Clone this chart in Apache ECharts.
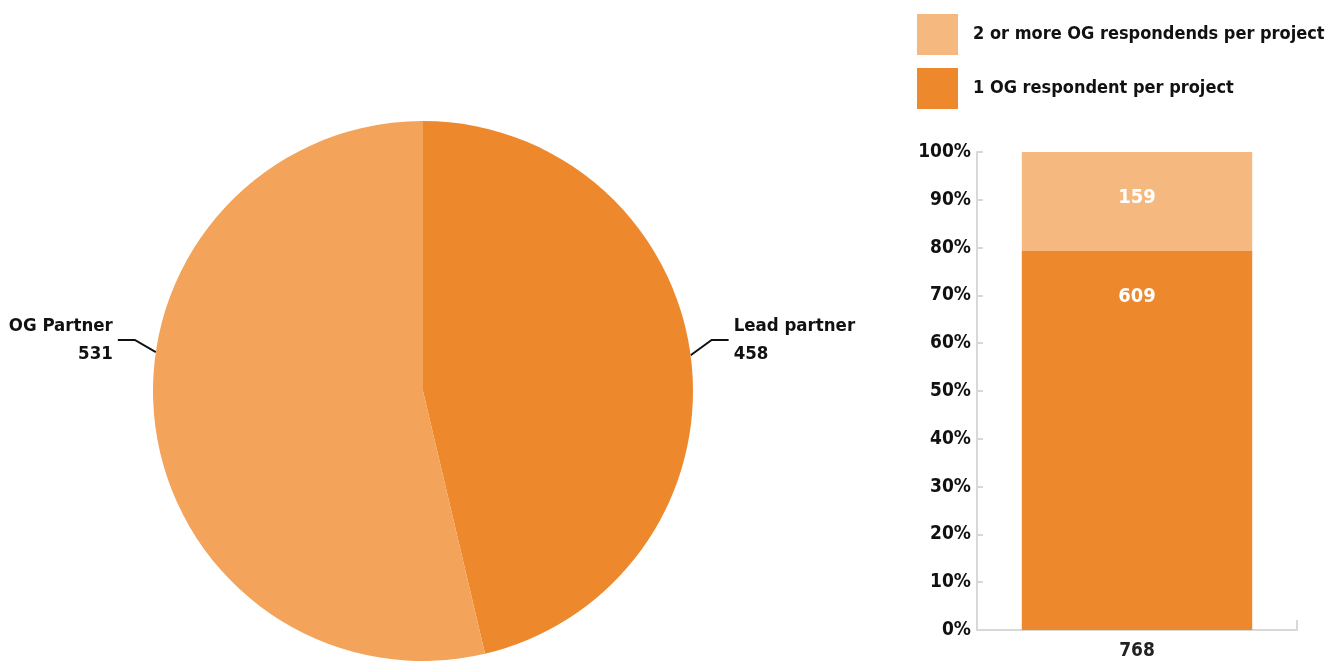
<!DOCTYPE html>
<html>
<head>
<meta charset="utf-8">
<script src="https://cdn.jsdelivr.net/npm/echarts@6/dist/echarts.min.js"></script>
<style>
  html, body { margin: 0; padding: 0; background: #ffffff; }
  #chart { width: 1333px; height: 661px; }
</style>
</head>
<body>
<div id="chart"></div>
<script>
// Respondent role split (pie)
const pieNames = ['Lead partner', 'OG Partner'];
const pieValues = [458, 531];

// Respondents per project (stacked 100% column)
const barCategories = ['768'];
const barSeriesNames = ['1 OG respondent per project', '2 or more OG respondends per project'];
const barCounts = [609, 159];
const legendOrder = ['2 or more OG respondends per project', '1 OG respondent per project'];

const FONT = '"DejaVu Sans Condensed", "Liberation Sans Narrow", "Roboto", sans-serif';
const DARK = '#EE882D';
const PIE_LIGHT = '#F3A35A';
const BAR_LIGHT = '#F5B980';
const AXIS = '#D8D8D4';

// Pie geometry (pixels)
const PIE_CENTER = [423, 391];
const PIE_RADIUS = 270;

const barTotal = barCounts.reduce((a, b) => a + b, 0);
const barColors = [DARK, BAR_LIGHT];

const chart = echarts.init(document.getElementById('chart'), null, { renderer: 'canvas' });

const barSeries = barSeriesNames.map((name, i) => ({
  name: name,
  type: 'bar',
  stack: 'share',
  barWidth: '72%',
  itemStyle: { color: barColors[i] },
  label: {
    show: true,
    position: 'insideTop',
    distance: 36,
    color: '#ffffff',
    fontFamily: FONT,
    fontWeight: 'bold',
    fontSize: 20,
    formatter: () => String(barCounts[i])
  },
  data: [barCounts[i] / barTotal * 100]
}));

// Leader lines leave the rim slightly above the horizontal, rise, then run flat to the label.
function pieLabelLayout(params) {
  const side = params.dataIndex === 0 ? 1 : -1;
  const ang = (side === 1 ? 7.6 : 8.3) * Math.PI / 180;
  const cx = PIE_CENTER[0], cy = PIE_CENTER[1], r = PIE_RADIUS;
  const start = [cx + side * r * Math.cos(ang), cy - r * Math.sin(ang)];
  const labelY = cy - 51;
  const bend = [start[0] + side * 21, labelY];
  const end = [bend[0] + side * 17, labelY];
  return {
    x: end[0] + side * 5,
    y: labelY,
    align: side === 1 ? 'left' : 'right',
    verticalAlign: 'middle',
    labelLinePoints: [start, bend, end]
  };
}

chart.setOption({
  animation: false,
  textStyle: { fontFamily: FONT },
  legend: {
    data: legendOrder,
    orient: 'vertical',
    left: 917,
    top: 14,
    padding: 0,
    itemWidth: 41,
    itemHeight: 41,
    itemGap: 13,
    icon: 'rect',
    textStyle: {
      fontFamily: FONT,
      fontWeight: 'bold',
      fontSize: 18,
      color: '#111111',
      padding: [2, 0, 0, 10]
    }
  },
  grid: { left: 977, right: 36, top: 152, bottom: 31, containLabel: false },
  xAxis: {
    type: 'category',
    data: barCategories,
    axisLine: { lineStyle: { color: AXIS, width: 2 } },
    axisTick: { show: true, inside: true, length: 10, lineStyle: { color: AXIS, width: 2 } },
    axisLabel: {
      fontFamily: FONT, fontWeight: 'bold', fontSize: 19, color: '#222222', margin: 12
    }
  },
  yAxis: {
    type: 'value',
    min: 0,
    max: 100,
    interval: 10,
    splitLine: { show: false },
    axisLine: { show: true, lineStyle: { color: AXIS, width: 2 } },
    axisTick: { show: true, inside: true, length: 6, lineStyle: { color: AXIS, width: 2 } },
    axisLabel: {
      formatter: '{value}%',
      fontFamily: FONT, fontWeight: 'bold', fontSize: 19, color: '#111111', margin: 6
    }
  },
  series: [
    {
      type: 'pie',
      center: PIE_CENTER,
      radius: PIE_RADIUS,
      startAngle: 90,
      clockwise: true,
      itemStyle: { borderWidth: 0 },
      label: {
        show: true,
        overflow: 'none',
        formatter: '{b}\n{c}',
        fontFamily: FONT,
        fontWeight: 'bold',
        fontSize: 18.5,
        lineHeight: 28,
        color: '#111111'
      },
      labelLine: {
        show: true,
        length: 20,
        length2: 18,
        lineStyle: { color: '#111111', width: 2 }
      },
      labelLayout: pieLabelLayout,
      data: pieNames.map((n, i) => ({
        name: n,
        value: pieValues[i],
        itemStyle: { color: i === 0 ? DARK : PIE_LIGHT }
      }))
    },
    ...barSeries
  ]
});
</script>
</body>
</html>
